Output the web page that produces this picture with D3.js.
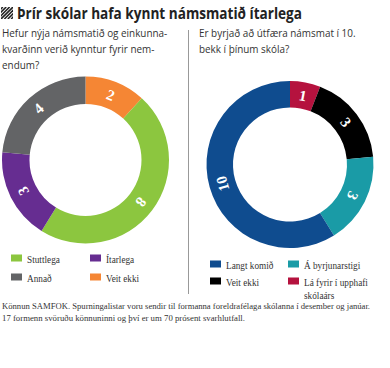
<!DOCTYPE html>
<html><head><meta charset="utf-8">
<script src="https://cdn.jsdelivr.net/npm/d3@7"></script>
<style>body{margin:0;background:#fff}svg{display:block}</style>
</head><body><div id="c"></div>
<script>
const title = "Þrír skólar hafa kynnt námsmatið ítarlega";
const leftQuestion = ["Hefur nýja námsmatið og einkunna-", "kvarðinn verið kynntur fyrir nem-", "endum?"];
const rightQuestion = ["Er byrjað að útfæra námsmat í 10.", "bekk í þínum skóla?"];
const leftCategories = ["Veit ekki", "Stuttlega", "Ítarlega", "Annað"];
const leftValues = [2, 8, 3, 4];
const leftColors = ["#f58634", "#8cc63f", "#662d91", "#636466"];
const leftLegendOrder = ["Stuttlega", "Ítarlega", "Annað", "Veit ekki"];
const rightCategories = ["Lá fyrir í upphafi skólaárs", "Veit ekki", "Á byrjunarstigi", "Langt komið"];
const rightValues = [1, 3, 3, 10];
const rightColors = ["#b5123e", "#000000", "#1a9ba6", "#0f4c8f"];
const rightLegendOrder = ["Langt komið", "Á byrjunarstigi", "Veit ekki", "Lá fyrir í upphafi skólaárs"];
const footnote = ["Könnun SAMFOK. Spurningalistar voru sendir til formanna foreldrafélaga skólanna í desember og janúar.",
  "17 formenn svöruðu könnuninni og  því er um 70 prósent svarhlutfall."];

const W = 390, H = 368;
const svg = d3.select("#c").append("svg").attr("width", W).attr("height", H);
const sans = "'Open Sans', sans-serif";
const serif = "'Liberation Serif', 'DejaVu Serif', serif";

function squeeze(sel, f) {
  sel.each(function () {
    const w = this.getComputedTextLength();
    d3.select(this).attr("textLength", w * f).attr("lengthAdjust", "spacingAndGlyphs");
  });
}

// title icon (hatched square)
const defs = svg.append("defs");
defs.append("clipPath").attr("id", "ic").append("rect").attr("x", 1).attr("y", 7).attr("width", 12).attr("height", 12);
const ic = svg.append("g").attr("clip-path", "url(#ic)");
d3.range(-3, 6).forEach(i => {
  ic.append("line").attr("x1", 1 + i * 3.4).attr("y1", 19).attr("x2", 13 + i * 3.4).attr("y2", 7)
    .attr("stroke", "#222").attr("stroke-width", 1.6);
});
svg.append("text").attr("x", 17).attr("y", 18.5).text(title)
  .attr("font-family", sans).attr("font-weight", 700).attr("font-size", 16.5)
  .attr("textLength", 285).attr("lengthAdjust", "spacingAndGlyphs").attr("fill", "#222");

// questions
function question(lines, x) {
  const t = svg.append("g").selectAll("text").data(lines).join("text")
    .attr("x", x).attr("y", (d, i) => 37 + i * 16).text(d => d)
    .attr("font-family", sans).attr("font-size", 11).attr("fill", "#333");
  squeeze(t, 0.9);
}
question(leftQuestion, 2);
question(rightQuestion, 199);

// divider
svg.append("line").attr("x1", 188.5).attr("x2", 188.5).attr("y1", 30).attr("y2", 294)
  .attr("stroke", "#999").attr("stroke-width", 1);

function donut(cats, vals, colors, cx, cy, ro, ri) {
  const pie = d3.pie().sort(null).value(d => d.v);
  const data = pie(cats.map((c, i) => ({c, v: vals[i], col: colors[i]})));
  const arc = d3.arc().innerRadius(ri).outerRadius(ro);
  const g = svg.append("g").attr("transform", `translate(${cx},${cy})`);
  g.selectAll("path").data(data).join("path").attr("d", arc).attr("fill", d => d.data.col);
  const rm = (ro + ri) / 2;
  g.selectAll("text").data(data).join("text")
    .attr("transform", d => {
      const a = (d.startAngle + d.endAngle) / 2;
      return `translate(${rm * Math.sin(a)},${-rm * Math.cos(a)}) rotate(${a * 180 / Math.PI})`;
    })
    .attr("text-anchor", "middle").attr("dy", "0.35em")
    .attr("font-family", serif).attr("font-weight", 700).attr("font-size", 15)
    .attr("fill", "#fff").text(d => d.data.v);
}
donut(leftCategories, leftValues, leftColors, 85.5, 160, 83.5, 56);
donut(rightCategories, rightValues, rightColors, 290, 164.5, 83.5, 57);

function legend(order, cats, colors, x0, x1, rowsY) {
  const g = svg.append("g");
  order.forEach((name, k) => {
    const col = colors[cats.indexOf(name)];
    const x = k % 2 === 0 ? x0 : x1;
    const y = rowsY[Math.floor(k / 2)];
    g.append("rect").attr("x", x).attr("y", y - 4.5).attr("width", 11).attr("height", 7).attr("fill", col);
    const words = name === "Lá fyrir í upphafi skólaárs" ? ["Lá fyrir í upphafi", "skólaárs"] : [name];
    words.forEach((w, j) => {
      const t = g.append("text").attr("x", x + 16).attr("y", y + 3.5 + j * 13).text(w)
        .attr("font-family", serif).attr("font-size", 11).attr("fill", "#333");
      squeeze(t, 0.84);
    });
  });
}
legend(leftLegendOrder, leftCategories, leftColors, 11, 90, [259, 278]);
legend(rightLegendOrder, rightCategories, rightColors, 210, 288, [265, 282]);

svg.append("g").selectAll("text").data(footnote).join("text")
  .attr("x", 2).attr("y", (d, i) => 309 + i * 12).text(d => d)
  .attr("font-family", serif).attr("font-size", 9).attr("fill", "#333")
  .attr("textLength", (d, i) => i === 0 ? 368 : 243).attr("lengthAdjust", "spacingAndGlyphs");
</script></body></html>
